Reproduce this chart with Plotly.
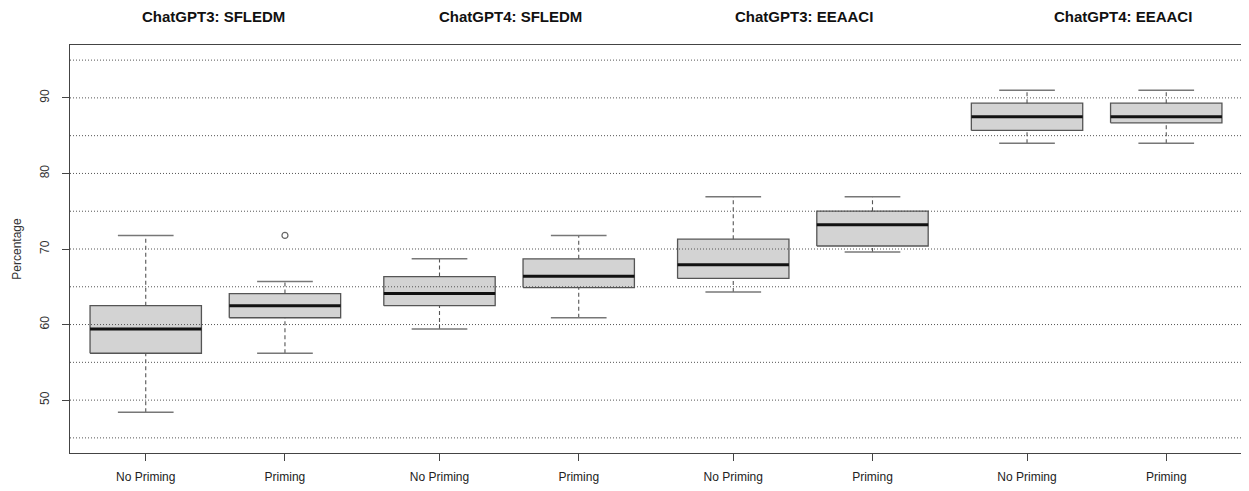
import plotly.graph_objects as go

# ---- data ----
positions = [1, 2, 3.11, 4.11, 5.22, 6.22, 7.33, 8.33]
tick_labels = ["No Priming", "Priming", "No Priming", "Priming",
               "No Priming", "Priming", "No Priming", "Priming"]
lower_whisker = [48.4, 56.2, 59.4, 60.9, 64.3, 69.6, 84.0, 84.0]
q1 = [56.2, 60.9, 62.5, 64.9, 66.1, 70.4, 85.7, 86.7]
median = [59.4, 62.5, 64.1, 66.4, 67.9, 73.2, 87.5, 87.5]
q3 = [62.5, 64.1, 66.35, 68.7, 71.3, 75.0, 89.3, 89.3]
upper_whisker = [71.8, 65.7, 68.7, 71.8, 76.9, 76.9, 91.0, 91.0]
outlier_x = [2]
outlier_y = [71.8]
panel_titles = ["ChatGPT3: SFLEDM", "ChatGPT4: SFLEDM", "ChatGPT3: EEAACI", "ChatGPT4: EEAACI"]
panel_title_x = [1.49, 3.62, 5.73, 8.02]
grid_values = [45, 50, 55, 60, 65, 70, 75, 80, 85, 90, 95]
y_ticks = [50, 60, 70, 80, 90]

BOXW = 0.4   # half box width
CAPW = 0.2   # half cap width
FONT = "Liberation Sans, Arial, sans-serif"
EDGE = "#555555"

fig = go.Figure()

# box bodies
for p, a, b in zip(positions, q1, q3):
    fig.add_trace(go.Scatter(
        x=[p - BOXW, p + BOXW, p + BOXW, p - BOXW, p - BOXW],
        y=[a, a, b, b, a], mode="lines", fill="toself",
        fillcolor="#d3d3d3", line=dict(color=EDGE, width=1.3),
        hoverinfo="skip", showlegend=False))

# whiskers (dashed)
wx, wy = [], []
for p, lw, a, b, uw in zip(positions, lower_whisker, q1, q3, upper_whisker):
    wx += [p, p, None, p, p, None]
    wy += [lw, a, None, b, uw, None]
fig.add_trace(go.Scatter(x=wx, y=wy, mode="lines",
                         line=dict(color=EDGE, width=1.1, dash="4px,3px"),
                         hoverinfo="skip", showlegend=False))

# caps
cx, cy = [], []
for p, lw, uw in zip(positions, lower_whisker, upper_whisker):
    cx += [p - CAPW, p + CAPW, None, p - CAPW, p + CAPW, None]
    cy += [lw, lw, None, uw, uw, None]
fig.add_trace(go.Scatter(x=cx, y=cy, mode="lines",
                         line=dict(color="#777777", width=1.5),
                         hoverinfo="skip", showlegend=False))

# medians
mx, my = [], []
for p, m in zip(positions, median):
    mx += [p - BOXW, p + BOXW, None]
    my += [m, m, None]
fig.add_trace(go.Scatter(x=mx, y=my, mode="lines",
                         line=dict(color="#111111", width=3),
                         hoverinfo="skip", showlegend=False))

# outliers
fig.add_trace(go.Scatter(x=outlier_x, y=outlier_y, mode="markers",
                         marker=dict(symbol="circle-open", size=6,
                                     color="#666666", line=dict(width=1.2)),
                         hoverinfo="skip", showlegend=False))

# dotted horizontal grid lines drawn over the boxes
for g in grid_values:
    fig.add_shape(type="line", xref="paper", x0=0, x1=1, yref="y", y0=g, y1=g,
                  line=dict(color="#555555", width=1, dash="1px,2px"), layer="above")

# panel titles
for t, x in zip(panel_titles, panel_title_x):
    fig.add_annotation(text="<b>" + t + "</b>", x=x, xref="x", y=1.0, yref="paper",
                       yshift=39, showarrow=False,
                       font=dict(family=FONT, size=15, color="#111111"))

# page body has an 8px margin, so the figure is sized/offset to compensate
fig.update_layout(
    width=1241, height=483,
    margin=dict(l=62, r=2, t=37, b=38),
    plot_bgcolor="white", paper_bgcolor="white",
    font=dict(family=FONT, size=12, color="#222222"),
    showlegend=False,
)
fig.update_xaxes(
    range=[0.456, 8.91], tickvals=positions, ticktext=tick_labels,
    ticks="outside", ticklen=7, tickcolor="#444444", showgrid=False, zeroline=False,
    showline=True, linecolor="#444444", linewidth=1.3, mirror=True,
    tickfont=dict(size=12, color="#222222"), ticklabelstandoff=5,
)
fig.update_yaxes(
    range=[43, 97], tickvals=y_ticks, tickangle=-90,
    ticks="outside", ticklen=7, tickcolor="#444444", showgrid=False, zeroline=False,
    showline=True, linecolor="#444444", linewidth=1.3, mirror=True,
    tickfont=dict(size=12, color="#333333"), ticklabelstandoff=8,
    title=dict(text="Percentage", font=dict(size=12, color="#333333"), standoff=13),
)

fig.write_html("out.html")
